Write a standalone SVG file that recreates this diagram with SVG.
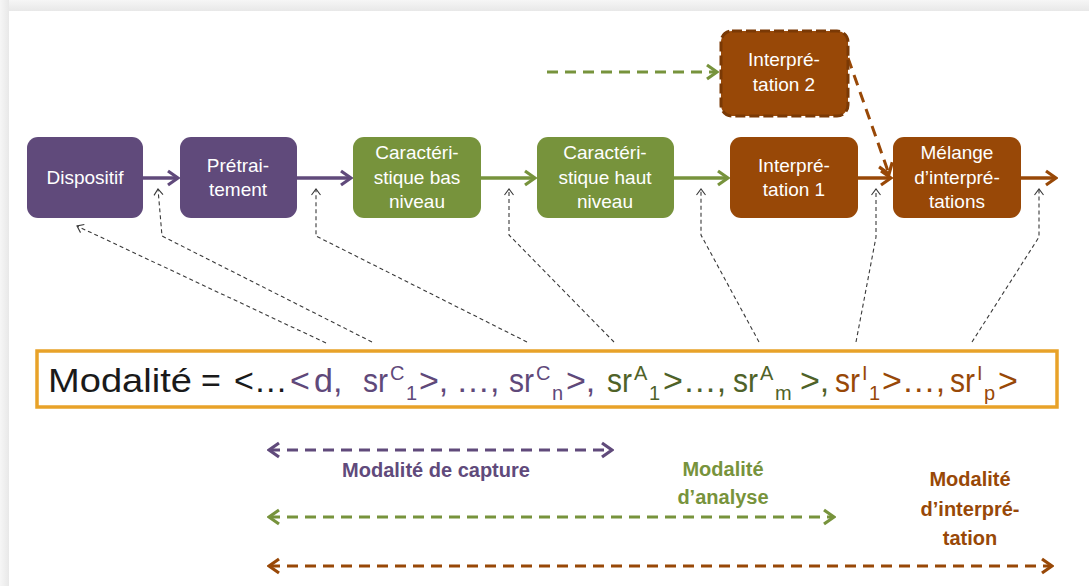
<svg xmlns="http://www.w3.org/2000/svg" width="1089" height="586" viewBox="0 0 1089 586">
<defs>
<style>
.nt{font-family:"Liberation Sans",Arial,sans-serif;font-size:19px;fill:#ffffff;text-anchor:middle}
.lab{font-family:"Liberation Sans",Arial,sans-serif;font-size:20px;font-weight:bold;text-anchor:middle}
.fm{font-family:"Liberation Sans",Arial,sans-serif;font-size:34px}
.sm{font-size:20px}
.ptr{fill:none;stroke:#3a3a3a;stroke-width:1.1;stroke-dasharray:4 3;marker-end:url(#ahK)}
.ma{fill:none;stroke-width:3.5}
.da{fill:none;stroke-width:3;stroke-dasharray:11 7}
</style>
<linearGradient id="gt" x1="0" y1="0" x2="0" y2="1"><stop offset="0" stop-color="#f6f6f6"/><stop offset="1" stop-color="#e8e8e8"/></linearGradient>
<linearGradient id="gl" x1="0" y1="0" x2="1" y2="0"><stop offset="0" stop-color="#f6f6f6"/><stop offset="1" stop-color="#e8e8e8"/></linearGradient>
<marker id="ahP" viewBox="-13 -9 15 18" markerWidth="15" markerHeight="18" refX="0" refY="0" orient="auto-start-reverse" markerUnits="userSpaceOnUse"><path d="M-10,-7 L0,0 L-10,7" fill="none" stroke="#604A7B" stroke-width="3.2"/></marker>
<marker id="ahG" viewBox="-13 -9 15 18" markerWidth="15" markerHeight="18" refX="0" refY="0" orient="auto-start-reverse" markerUnits="userSpaceOnUse"><path d="M-10,-7 L0,0 L-10,7" fill="none" stroke="#77933C" stroke-width="3.2"/></marker>
<marker id="ahB" viewBox="-13 -9 15 18" markerWidth="15" markerHeight="18" refX="0" refY="0" orient="auto-start-reverse" markerUnits="userSpaceOnUse"><path d="M-10,-7 L0,0 L-10,7" fill="none" stroke="#984807" stroke-width="3.2"/></marker>
<marker id="ahK" viewBox="-8 -6 10 12" markerWidth="10" markerHeight="12" refX="0" refY="0" orient="auto" markerUnits="userSpaceOnUse"><path d="M-6,-4.5 L0,0 L-6,4.5" fill="none" stroke="#3a3a3a" stroke-width="1.1"/></marker>
</defs>

<rect x="0" y="0" width="1089" height="586" fill="#f0f0f0"/>
<rect x="0" y="0" width="1089" height="11" fill="url(#gt)"/>
<rect x="0" y="0" width="9" height="586" fill="url(#gl)"/>
<rect x="9" y="11" width="1080" height="575" fill="#ffffff"/>

<g id="connectors">
<line class="ma" x1="143" y1="178" x2="178" y2="178" stroke="#604A7B" marker-end="url(#ahP)"/>
<line class="ma" x1="297" y1="178" x2="351" y2="178" stroke="#604A7B" marker-end="url(#ahP)"/>
<line class="ma" x1="481" y1="178" x2="535" y2="178" stroke="#77933C" marker-end="url(#ahG)"/>
<line class="ma" x1="674" y1="178" x2="728" y2="178" stroke="#77933C" marker-end="url(#ahG)"/>
<line class="ma" x1="858" y1="178" x2="891" y2="178" stroke="#984807" marker-end="url(#ahB)"/>
<line class="ma" x1="1021" y1="178" x2="1056" y2="178" stroke="#984807" marker-end="url(#ahB)"/>
<line class="da" x1="547" y1="72" x2="717" y2="72" stroke="#77933C" stroke-width="3.5" stroke-dasharray="18 11" marker-end="url(#ahG)"/>
<line class="da" x1="848" y1="58" x2="889" y2="174" stroke="#984807" stroke-width="3.5" stroke-dasharray="16 9" marker-end="url(#ahB)"/>

<polyline class="ptr" points="326,343 77,226"/>
<polyline class="ptr" points="372,342 162,236 158,189"/>
<polyline class="ptr" points="527,342 316,236 316,189"/>
<polyline class="ptr" points="614,342 509,235 509,189"/>
<polyline class="ptr" points="759,342 701,235 701,189"/>
<polyline class="ptr" points="856,342 876,237 876,189"/>
<polyline class="ptr" points="972,342 1039,237 1039,189"/>

<line class="da" x1="269" y1="450" x2="612" y2="450" stroke="#604A7B" marker-start="url(#ahP)" marker-end="url(#ahP)"/>
<line class="da" x1="269" y1="517" x2="834" y2="517" stroke="#77933C" marker-start="url(#ahG)" marker-end="url(#ahG)"/>
<line class="da" x1="269" y1="566" x2="1052" y2="566" stroke="#984807" marker-start="url(#ahB)" marker-end="url(#ahB)"/>
</g>

<g id="dispositif">
<rect x="27" y="137" width="116" height="81" rx="11" fill="#604A7B"/>
<text class="nt" x="85" y="184">Dispositif</text>
</g>
<g id="pretraitement">
<rect x="180" y="137" width="117" height="81" rx="11" fill="#604A7B"/>
<text class="nt" x="238" y="172">Prétrai-</text>
<text class="nt" x="238" y="196">tement</text>
</g>
<g id="carac-bas">
<rect x="353" y="137" width="128" height="81" rx="11" fill="#77933C"/>
<text class="nt" x="417" y="159">Caractéri-</text>
<text class="nt" x="417" y="184">stique bas</text>
<text class="nt" x="417" y="208">niveau</text>
</g>
<g id="carac-haut">
<rect x="537" y="137" width="137" height="81" rx="11" fill="#77933C"/>
<text class="nt" x="605" y="159">Caractéri-</text>
<text class="nt" x="605" y="184">stique haut</text>
<text class="nt" x="605" y="208">niveau</text>
</g>
<g id="interpretation1">
<rect x="730" y="137" width="128" height="81" rx="11" fill="#984807"/>
<text class="nt" x="794" y="172">Interpré-</text>
<text class="nt" x="794" y="196">tation 1</text>
</g>
<g id="melange">
<rect x="893" y="137" width="128" height="81" rx="11" fill="#984807"/>
<text class="nt" x="957" y="159">Mélange</text>
<text class="nt" x="957" y="184">d’interpré-</text>
<text class="nt" x="957" y="208">tations</text>
</g>
<g id="interpretation2">
<rect x="721" y="31" width="127" height="85" rx="11" fill="#984807" stroke="#7A3905" stroke-width="3" stroke-dasharray="10 4"/>
<text class="nt" x="784" y="66">Interpré-</text>
<text class="nt" x="784" y="91">tation 2</text>
</g>

<g id="formule">
<rect x="37" y="351" width="1020" height="56" fill="#ffffff" stroke="#E8A229" stroke-width="3.5"/>
<text class="fm" y="392">
<tspan x="48" fill="#1a1a1a" textLength="144" lengthAdjust="spacingAndGlyphs">Modalité</tspan>
<tspan x="201" fill="#1a1a1a">=</tspan>
<tspan x="234" fill="#1a1a1a">&lt;…</tspan>
<tspan x="290" fill="#5F497A">&lt;</tspan>
<tspan x="314" fill="#5F497A">d,</tspan>
<tspan x="363" fill="#5F497A" textLength="25" lengthAdjust="spacingAndGlyphs">sr</tspan>
<tspan x="390" y="380" class="sm" fill="#5F497A">C</tspan>
<tspan x="406" y="400" class="sm" fill="#5F497A">1</tspan>
<tspan x="419" y="392" fill="#5F497A">&gt;,</tspan>
<tspan x="456" fill="#5F497A">…,</tspan>
<tspan x="509" fill="#5F497A" textLength="25" lengthAdjust="spacingAndGlyphs">sr</tspan>
<tspan x="536" y="380" class="sm" fill="#5F497A">C</tspan>
<tspan x="552" y="400" class="sm" fill="#5F497A">n</tspan>
<tspan x="566" y="392" fill="#5F497A">&gt;,</tspan>
<tspan x="607" fill="#4F6228" textLength="25" lengthAdjust="spacingAndGlyphs">sr</tspan>
<tspan x="634" y="380" class="sm" fill="#4F6228">A</tspan>
<tspan x="649" y="400" class="sm" fill="#4F6228">1</tspan>
<tspan x="663" y="392" fill="#4F6228">&gt;…,</tspan>
<tspan x="733" fill="#4F6228" textLength="25" lengthAdjust="spacingAndGlyphs">sr</tspan>
<tspan x="760" y="380" class="sm" fill="#4F6228">A</tspan>
<tspan x="775" y="400" class="sm" fill="#4F6228">m</tspan>
<tspan x="800" y="392" fill="#4F6228">&gt;,</tspan>
<tspan x="835" fill="#984807" textLength="25" lengthAdjust="spacingAndGlyphs">sr</tspan>
<tspan x="862" y="380" class="sm" fill="#984807">I</tspan>
<tspan x="869" y="400" class="sm" fill="#984807">1</tspan>
<tspan x="882" y="392" fill="#984807">&gt;…,</tspan>
<tspan x="950" fill="#984807" textLength="25" lengthAdjust="spacingAndGlyphs">sr</tspan>
<tspan x="977" y="380" class="sm" fill="#984807">I</tspan>
<tspan x="984" y="400" class="sm" fill="#984807">p</tspan>
<tspan x="998" y="392" fill="#984807">&gt;</tspan>
</text>
</g>

<g id="labels">
<text class="lab" x="436" y="477" fill="#604A7B">Modalité de capture</text>
<text class="lab" x="723" y="476" fill="#77933C">Modalité</text>
<text class="lab" x="723" y="504" fill="#77933C">d’analyse</text>
<text class="lab" x="970" y="486" fill="#984807">Modalité</text>
<text class="lab" x="970" y="516" fill="#984807">d’interpré-</text>
<text class="lab" x="970" y="545" fill="#984807">tation</text>
</g>
</svg>
